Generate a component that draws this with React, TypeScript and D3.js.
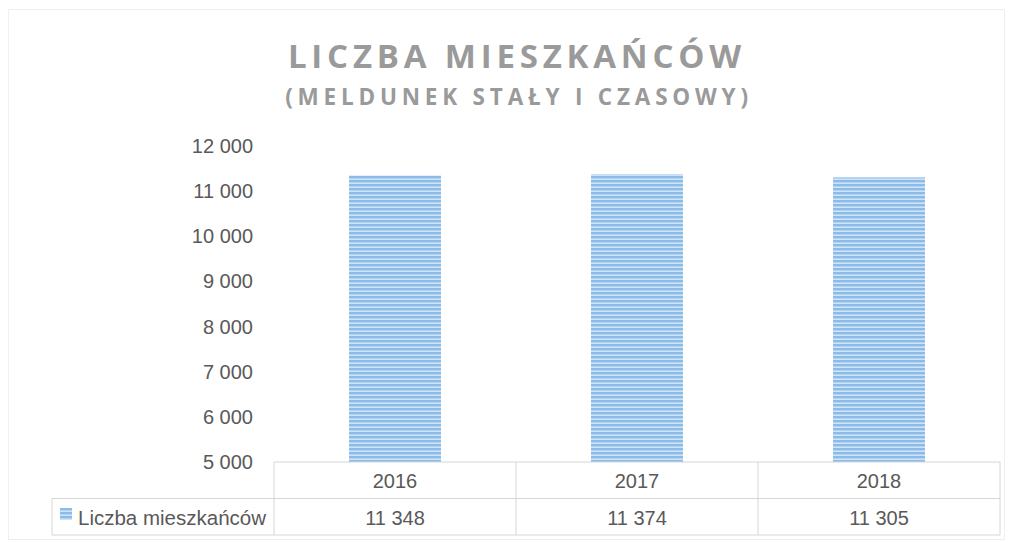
import React from "react";
import * as d3 from "d3";

const categories = ["2016", "2017", "2018"];
const values = [11348, 11374, 11305];
const yTicks = [5000, 6000, 7000, 8000, 9000, 10000, 11000, 12000];
const seriesName = "Liczba mieszkańców";
const title = "LICZBA MIESZKAŃCÓW";
const subtitle = "(MELDUNEK STAŁY I CZASOWY)";

const W = 1014;
const H = 542;
const plotLeft = 274;
const plotRight = 1000;
const plotTop = 146;
const plotBottom = 462;
const rowH = 36.5;
const FONT = "'Liberation Sans', Arial, sans-serif";
const fmt = (v: number) => d3.format(",")(v).replace(/,/g, " ");

export default function App() {
  const x = d3.scaleBand<string>().domain(categories).range([plotLeft, plotRight]).paddingInner(0.62).paddingOuter(0.31);
  const y = d3.scaleLinear().domain([5000, 12000]).range([plotBottom, plotTop]);
  const band = d3.scaleBand<string>().domain(categories).range([plotLeft, plotRight]);
  const r1 = plotBottom;
  const r2 = plotBottom + rowH;
  const r3 = plotBottom + rowH * 2;
  const lineColor = "#d6d6d6";
  return (
    <svg width={W} height={H} style={{ position: "absolute", left: 0, top: 0, background: "#fff" }}>
      <defs>
        <pattern id="stripes" width="8" height="4" patternUnits="userSpaceOnUse">
          <rect width="8" height="4" fill="#cfe3f7" />
          <rect width="8" height="2.4" fill="#8abbe9" />
        </pattern>
      </defs>
      <rect x={0} y={0} width={W} height={H} fill="#fff" />
      <rect x={8.5} y={9.5} width={996} height={530} fill="none" stroke="#efefef" />
      <text x={517} y={68} textAnchor="middle" fontFamily="'Open Sans', sans-serif" fontWeight="bold" fontSize={33} letterSpacing={4.8} fill="#9a9a9a">{title}</text>
      <text x={519} y={105} textAnchor="middle" fontFamily="'Open Sans', sans-serif" fontWeight="bold" fontSize={22.5} letterSpacing={4.8} fill="#9a9a9a">{subtitle}</text>
      {yTicks.map((t) => (
        <text key={t} x={253} y={y(t)} dy="0.35em" textAnchor="end" fontFamily={FONT} fontSize={20} fill="#595959">{fmt(t)}</text>
      ))}
      {categories.map((c, i) => (
        <rect key={c} x={x(c)} y={y(values[i])} width={x.bandwidth()} height={plotBottom - y(values[i])} fill="url(#stripes)" />
      ))}
      {/* data table */}
      <line x1={plotLeft} x2={plotRight} y1={r1} y2={r1} stroke={lineColor} />
      <line x1={52} x2={plotRight} y1={r2} y2={r2} stroke={lineColor} />
      <line x1={52} x2={plotRight} y1={r3} y2={r3} stroke={lineColor} />
      <line x1={52} x2={52} y1={r2} y2={r3} stroke={lineColor} />
      {[...categories.map((c) => band(c) as number), plotRight].map((xx, i) => (
        <line key={i} x1={xx} x2={xx} y1={r1} y2={r3} stroke={lineColor} />
      ))}
      {categories.map((c, i) => (
        <g key={c}>
          <text x={(band(c) as number) + band.bandwidth() / 2} y={(r1 + r2) / 2 + 1} dy="0.35em" textAnchor="middle" fontFamily={FONT} fontSize={20} fill="#595959">{c}</text>
          <text x={(band(c) as number) + band.bandwidth() / 2} y={(r2 + r3) / 2 + 1} dy="0.35em" textAnchor="middle" fontFamily={FONT} fontSize={20} fill="#595959">{fmt(values[i])}</text>
        </g>
      ))}
      <rect x={60} y={508} width={12} height={12} fill="url(#stripes)" />
      <text x={78} y={(r2 + r3) / 2 + 1} dy="0.35em" fontFamily={FONT} fontSize={20.5} fill="#595959">{seriesName}</text>
    </svg>
  );
}
